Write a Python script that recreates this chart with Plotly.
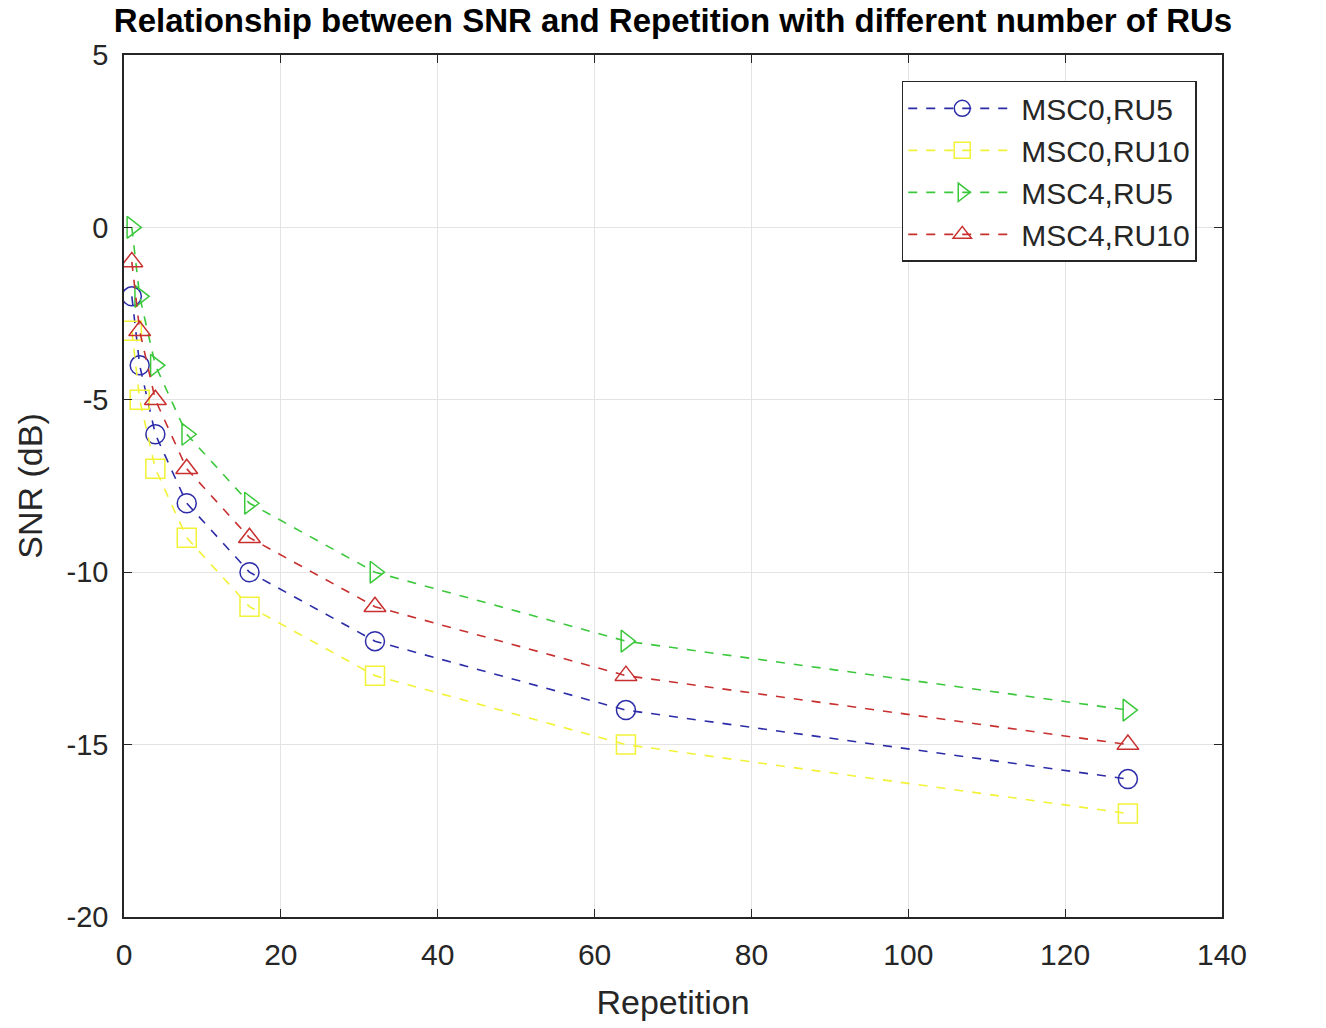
import plotly.graph_objects as go

repetition = [1, 2, 4, 8, 16, 32, 64, 128]
snr_msc0_ru5 = [-2, -4, -6, -8, -10, -12, -14, -16]
snr_msc0_ru10 = [-3, -5, -7, -9, -11, -13, -15, -17]
snr_msc4_ru5 = [0, -2, -4, -6, -8, -10, -12, -14]
snr_msc4_ru10 = [-1, -3, -5, -7, -9, -11, -13, -15]

x_ticks = [0, 20, 40, 60, 80, 100, 120, 140]
y_ticks = [-20, -15, -10, -5, 0, 5]
y_ticktext = ["-20", "-15", "-10", "-5", "0", "5"]

series = [
    ("MSC0,RU5", snr_msc0_ru5, "#2c2ca8", "circle-open"),
    ("MSC0,RU10", snr_msc0_ru10, "#f2f238", "square-open"),
    ("MSC4,RU5", snr_msc4_ru5, "#3cc83c", "triangle-right-open"),
    ("MSC4,RU10", snr_msc4_ru10, "#c83030", "triangle-up-open"),
]

fig = go.Figure()
for name, vals, color, sym in series:
    fig.add_trace(go.Scatter(
        x=repetition, y=vals, name=name, mode="lines+markers",
        line=dict(color=color, width=1.6, dash="dash"),
        marker=dict(symbol=sym, size=19, color=color, line=dict(width=1.5, color=color)),
    ))

font = "Liberation Sans, Arial, sans-serif"
fig.update_layout(
    width=1326, height=1028,
    margin=dict(l=124, r=104, t=55, b=111),
    paper_bgcolor="white", plot_bgcolor="white",
    title=dict(text="<b>Relationship between SNR and Repetition with different number of RUs</b>",
               x=(124 + 1222) / 2 / 1326, xanchor="center", y=1 - 20 / 1028, yanchor="middle",
               font=dict(family=font, size=33, color="black")),
    font=dict(family=font, size=30, color="#262626"),
    showlegend=True,
    legend=dict(x=0.977, xanchor="right", y=0.970, yanchor="top",
                bgcolor="white", bordercolor="#262626", borderwidth=1.5,
                font=dict(size=30, color="#262626"), tracegroupgap=0, itemwidth=108),
    xaxis=dict(range=[0, 140], tickvals=x_ticks,
               showgrid=True, gridcolor="#e3e3e3", gridwidth=1,
               showline=True, linecolor="#262626", linewidth=1.5, mirror="ticks",
               ticks="inside", ticklen=8, tickcolor="#262626", zeroline=False,
               ticklabelstandoff=10,
               title=dict(text="Repetition", font=dict(size=34), standoff=20),
               tickfont=dict(size=30)),
    yaxis=dict(range=[-20, 5], tickvals=y_ticks, ticktext=y_ticktext,
               showgrid=True, gridcolor="#e3e3e3", gridwidth=1,
               showline=True, linecolor="#262626", linewidth=1.5, mirror="ticks",
               ticks="inside", ticklen=8, tickcolor="#262626", zeroline=False,
               ticklabelstandoff=8,
               title=dict(text="SNR (dB)", font=dict(size=34), standoff=14),
               tickfont=dict(size=29)),
)

fig.write_html("out.html")
